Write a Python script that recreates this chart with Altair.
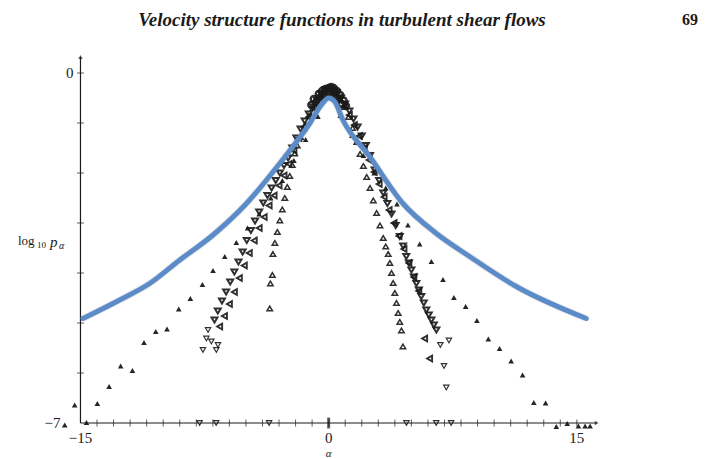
import altair as alt
import pandas as pd

# ---------------- data ----------------
# wide distribution: filled triangles
wide_alpha = [-15.95, -15.35, -14.64, -13.98, -13.27, -12.57, -11.86, -11.16, -10.45, -9.77,
              -9.06, -8.36, -7.63, -6.99, -6.28, -5.58, -4.9, -4.2, -3.5, -2.8, -2.1, -1.39, -0.65,
              0.7, 1.4, 2.1, 2.75, 3.45, 4.13, 4.79, 5.50, 6.21, 6.91, 7.57, 8.28, 8.96, 9.65,
              10.33, 11.03, 11.72, 12.40, 13.11, 13.76, 14.42, 15.1, 15.5, 15.8]
wide_logp = [-7.04, -6.64, -6.99, -6.61, -6.27, -5.86, -5.95, -5.39, -5.17, -5.12,
             -4.72, -4.51, -4.23, -3.95, -3.67, -3.39, -3.1, -2.82, -2.5, -2.15, -1.75, -1.33, -0.87,
             -0.85, -1.25, -1.65, -2.0, -2.3, -2.62, -3.04, -3.42, -3.77, -4.13, -4.49, -4.67, -4.95, -5.32,
             -5.51, -5.76, -6.04, -6.59, -6.60, -7.07, -7.01, -7.06, -7.06, -7.06]

# outer dense band: open down-triangles
outer_alpha = [-6.9, -6.7, -6.45, -6.2, -5.95, -5.7, -5.45, -5.2, -4.95, -4.7, -4.45, -4.2, -3.95,
               -3.7, -3.45, -3.2, -2.95, -2.7, -2.45, -2.2, -1.95, -1.7, -1.45, -1.2, -0.95, -0.7,
               -0.45, -0.2,
               0.25, 0.5, 0.75, 1.0, 1.25, 1.5, 1.75, 2.0, 2.25, 2.5, 2.78, 3.05, 3.3, 3.55, 3.8,
               4.05, 4.3, 4.5, 4.69, 4.85, 5.0, 5.15, 5.3, 5.45, 5.6, 5.75, 5.9, 6.05, 6.21, 6.36, 6.51]
outer_logp = [-4.94, -4.76, -4.56, -4.38, -4.18, -3.98, -3.78, -3.58, -3.35, -3.15, -2.96, -2.78, -2.6,
              -2.45, -2.3, -2.15, -2.0, -1.85, -1.7, -1.5, -1.3, -1.12, -0.96, -0.82, -0.68, -0.55,
              -0.42, -0.33,
              -0.34, -0.4, -0.5, -0.62, -0.76, -0.92, -1.08, -1.26, -1.45, -1.65, -1.94, -2.15, -2.4,
              -2.61, -2.82, -3.05, -3.27, -3.46, -3.67, -3.8, -3.94, -4.08, -4.21, -4.34, -4.47,
              -4.6, -4.74, -4.84, -4.94, -5.04, -5.14]

# middle band: open left-triangles
mid_alpha = [-6.59, -6.3, -6.0, -5.7, -5.4, -5.1, -4.8, -4.5, -4.2, -3.9, -3.6, -3.3, -3.0, -2.7,
             -2.4, -2.1, -1.8, -1.5, -1.2, -0.9, -0.6, -0.3,
             0.35, 0.65, 0.95, 1.25, 1.55, 1.85, 2.15, 2.45, 2.75, 3.05, 3.35, 3.65, 3.95, 4.25,
             4.55, 4.85, 5.15, 5.45, 5.8, 6.1]
mid_logp = [-5.07, -4.86, -4.62, -4.38, -4.1, -3.85, -3.6, -3.35, -3.1, -2.88, -2.65, -2.45, -2.25,
            -2.05, -1.82, -1.55, -1.3, -1.08, -0.88, -0.68, -0.5, -0.36,
            -0.38, -0.5, -0.66, -0.84, -1.04, -1.26, -1.5, -1.74, -1.98, -2.22, -2.48, -2.74,
            -3.0, -3.26, -3.52, -3.8, -4.08, -4.36, -5.31, -5.71]

# inner (narrow) band: open up-triangles
inner_alpha = [-3.56, -3.52, -3.4, -3.37, -3.25, -3.1, -2.95, -2.8, -2.65, -2.5, -2.35, -2.2,
               -2.05, -1.9, -1.7, -1.45, -1.2, -0.95, -0.7, -0.45, -0.2,
               0.2, 0.45, 0.7, 0.95, 1.2, 1.45, 1.7, 1.9, 2.1, 2.3, 2.5, 2.7, 2.9, 3.1, 3.3,
               3.45, 3.6, 3.7, 3.8, 3.9, 4.0, 4.1, 4.2, 4.3, 4.4, 4.49]
inner_logp = [-4.71, -4.21, -4.04, -3.62, -3.4, -3.18, -2.95, -2.73, -2.5, -2.28, -2.06, -1.84,
              -1.61, -1.45, -1.28, -1.05, -0.86, -0.7, -0.55, -0.42, -0.33,
              -0.32, -0.4, -0.52, -0.68, -0.88, -1.1, -1.38, -1.62, -1.86, -2.08, -2.3, -2.55,
              -2.8, -3.05, -3.3, -3.47, -3.62, -3.8, -4.0, -4.2, -4.4, -4.6, -4.8, -4.98, -5.15, -5.47]

# peak cluster (open circles)
peak_alpha = [-0.9, -0.6, -0.4, -0.2, 0.0, 0.15, 0.3, 0.5, 0.7, 0.9, 0.1, -0.1, 0.35,
              -0.75, -0.5, -0.3, 0.2, 0.45, 0.6, 0.8, 1.05, -1.05]
peak_logp = [-0.52, -0.42, -0.36, -0.32, -0.3, -0.28, -0.3, -0.36, -0.44, -0.55, -0.38, -0.4, -0.42,
             -0.58, -0.48, -0.44, -0.34, -0.48, -0.52, -0.62, -0.66, -0.64]

# tail scatter (open down-triangles)
tail_alpha = [-7.29, -7.39, -7.09, -7.6, -6.69, -6.79, 6.75, 7.27, 6.97, 7.11,
              -7.8, -6.8, -3.6, 4.7, 6.5, 7.4]
tail_logp = [-5.14, -5.31, -5.37, -5.54, -5.44, -5.54, -5.44, -5.35, -5.86, -6.29,
             -7.0, -7.0, -7.0, -7.0, -7.0, -7.0]

# blue overlay curve
blue_alpha = [-14.85, -12.63, -10.82, -9.0, -6.99, -4.97, -2.96, -1.15, -0.38, 0.0,
              0.36, 0.86, 2.48, 4.49, 6.51, 8.52, 11.34, 15.57]
blue_logp = [-4.91, -4.54, -4.21, -3.74, -3.24, -2.61, -1.81, -1.01, -0.61, -0.5,
             -0.57, -0.94, -1.67, -2.61, -3.21, -3.67, -4.27, -4.91]

# axes
x_ticks = list(range(-14, 16))
y_ticks = [0, -1, -2, -3, -4, -5, -6]
x_lab_vals = [-15, 0, 15]
x_lab_text = ["\u221215", "0", "15"]
axis_alpha = [-15.0, 16.2]
axis_logp = [-7.0, 0.32]

# ---------------- chart ----------------
xs = alt.Scale(domain=[-16.6, 16.4], nice=False, zero=False)
ys = alt.Scale(domain=[-7.4, 0.4], nice=False, zero=False)
X = alt.X("a:Q", scale=xs, axis=None)
Y = alt.Y("p:Q", scale=ys, axis=None)

def df(a, p):
    return pd.DataFrame({"a": a, "p": p})

ink = "#1a1a1a"
serif = "Liberation Serif"

xaxis = alt.Chart(pd.DataFrame({"a": [axis_alpha[0]], "a2": [axis_alpha[1]], "p": [axis_logp[0]]})).mark_rule(
    color=ink, strokeWidth=1.2).encode(x=X, x2="a2:Q", y=Y)
yaxis = alt.Chart(pd.DataFrame({"a": [axis_alpha[0]], "p": [axis_logp[0]], "p2": [axis_logp[1]]})).mark_rule(
    color=ink, strokeWidth=1.2).encode(x=X, y=Y, y2="p2:Q")
xarrow = alt.Chart(df([axis_alpha[1]], [axis_logp[0]])).mark_point(
    shape="triangle-right", filled=True, color=ink, size=20).encode(x=X, y=Y)
yarrow = alt.Chart(df([axis_alpha[0]], [axis_logp[1]])).mark_point(
    shape="triangle-up", filled=True, color=ink, size=20).encode(x=X, y=Y)
xt = alt.Chart(df(x_ticks, [-7.0] * len(x_ticks))).mark_tick(
    orient="vertical", color=ink, size=7, thickness=1).encode(x=X, y=Y)
x0 = alt.Chart(df([0], [-7.0])).mark_tick(
    orient="vertical", color=ink, size=11, thickness=3).encode(x=X, y=Y)
yt = alt.Chart(df([-15.0] * len(y_ticks), y_ticks)).mark_tick(
    orient="horizontal", color=ink, size=7, thickness=1).encode(x=X, y=Y)

xlab = alt.Chart(pd.DataFrame({"a": x_lab_vals, "p": [-7.0] * 3, "t": x_lab_text})).mark_text(
    font=serif, fontSize=15, color=ink, dy=15).encode(x=X, y=Y, text="t:N")
ylab7 = alt.Chart(pd.DataFrame({"a": [-15.0], "p": [-7.0], "t": ["\u22127"]})).mark_text(
    font=serif, fontSize=15, color=ink, align="right", dx=-20).encode(x=X, y=Y, text="t:N")
ylab0 = alt.Chart(pd.DataFrame({"a": [-15.0], "p": [0.0], "t": ["0"]})).mark_text(
    font=serif, fontSize=15, color=ink, align="right", dx=-7).encode(x=X, y=Y, text="t:N")

alpha_title = alt.Chart(pd.DataFrame({"a": [0.0], "p": [-7.0], "t": ["\u03b1"]})).mark_text(
    font=serif, fontSize=11, fontStyle="italic", color=ink, dy=31, baseline="middle").encode(
    x=X, y=Y, text="t:N")

def txt(s, x, y, size=15, style="normal", align="left", weight="normal"):
    return alt.Chart(pd.DataFrame({"t": [s]})).mark_text(
        font=serif, fontSize=size, fontStyle=style, fontWeight=weight, align=align,
        baseline="middle", color=ink).encode(x=alt.value(x), y=alt.value(y), text="t:N")

title = txt("Velocity structure functions in turbulent shear flows", 288, -33, size=19,
            style="italic", align="center", weight="bold")
page = txt("69", 636, -33, size=16, align="center", weight="bold")
ylog = txt("log", -36, 188, size=13)
ysub = txt("10", -17, 192, size=9)
yp = txt("p", -4, 189, size=15, style="italic")
ya = txt("\u03b1", 5, 193, size=10, style="italic")

blue_shadow = alt.Chart(df(blue_alpha, blue_logp)).mark_line(
    color="#555555", strokeWidth=7, opacity=0.12, interpolate="monotone").encode(x=X, y=Y)
blue = alt.Chart(df(blue_alpha, blue_logp)).mark_line(
    color="#5B8BC8", strokeWidth=5, interpolate="monotone", strokeCap="round").encode(x=X, y=Y)

def pts(a, p, shape, filled, size, sw=1.6):
    if filled:
        m = alt.Chart(df(a, p)).mark_point(shape=shape, filled=True, color=ink, size=size, opacity=0.95)
    else:
        m = alt.Chart(df(a, p)).mark_point(shape=shape, filled=False, color=ink, size=size,
                                            strokeWidth=sw, opacity=0.9)
    return m.encode(x=X, y=Y)

outer = pts(outer_alpha, outer_logp, "triangle-down", False, 36, sw=2.0)
mid = pts(mid_alpha, mid_logp, "triangle-left", False, 34, sw=1.9)
inner = pts(inner_alpha, inner_logp, "triangle-up", False, 30, sw=1.5)
peak = pts(peak_alpha, peak_logp, "circle", False, 36, sw=2.4)
tail = pts(tail_alpha, tail_logp, "triangle-down", False, 28, sw=1.2)
wide = pts(wide_alpha, wide_logp, "triangle-up", True, 32)

chart = alt.layer(
    xaxis, yaxis, xarrow, yarrow, xt, x0, yt, xlab, ylab7, ylab0, alpha_title,
    title, page, ylog, ysub, yp, ya,
    outer, mid, inner, peak, tail, wide, blue_shadow, blue
).properties(
    width=546, height=390,
    background="white",
    autosize=alt.AutoSizeParams(type="none"),
    padding={"left": 54, "top": 53, "right": 109, "bottom": 16},
).configure_view(strokeWidth=0, stroke="transparent")

chart.save("out.html", embed_options={"renderer": "svg", "actions": False})
